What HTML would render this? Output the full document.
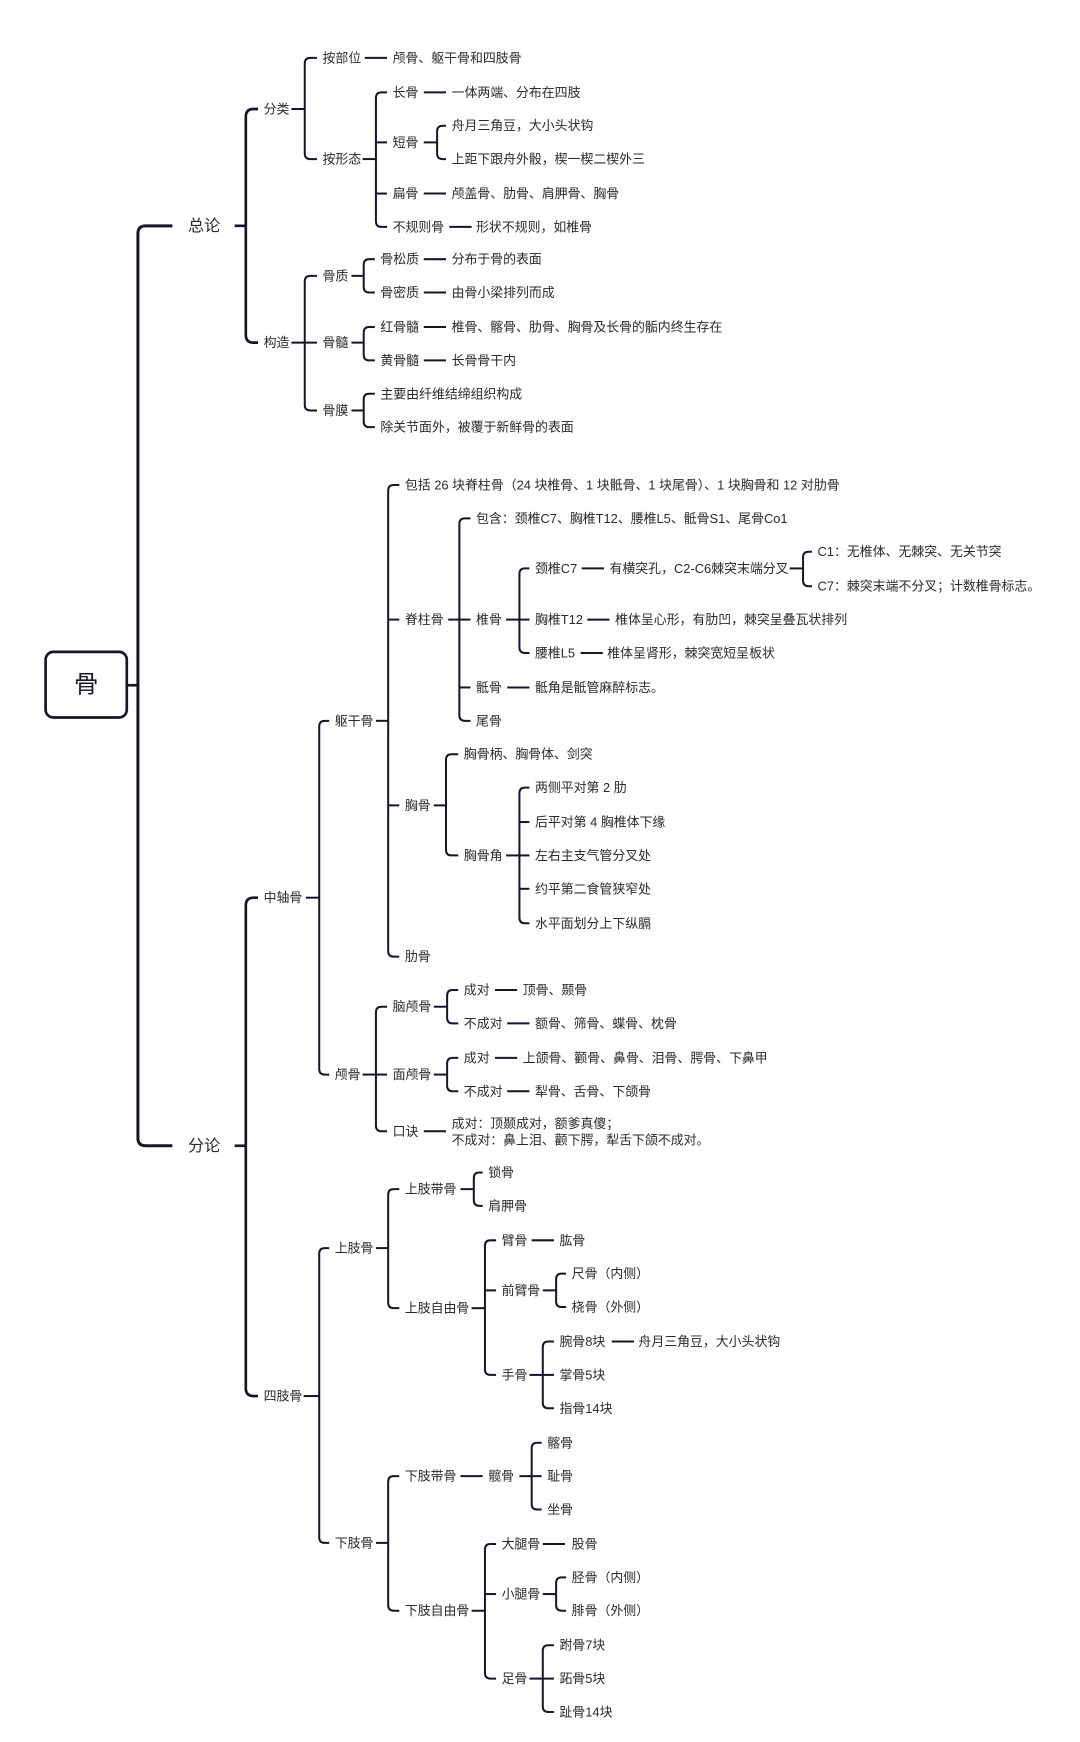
<!DOCTYPE html>
<html><head><meta charset="utf-8">
<style>
html,body{margin:0;padding:0;background:#fff;}
svg{display:block;}
text{font-family:"Liberation Sans","Noto Sans CJK SC",sans-serif;fill:#2a2a2a;dominant-baseline:central;}
</style></head>
<body>
<svg id="s" width="1080" height="1742" viewBox="0 0 971 1566" preserveAspectRatio="none" xmlns="http://www.w3.org/2000/svg">
<rect x="41" y="586" width="73" height="59" rx="7" fill="#fff" stroke="#16152b" stroke-width="2.4"/>
<text x="77.5" y="616" font-size="22" text-anchor="middle" style="fill:#16152b">骨</text>
<line x1="114" y1="616" x2="124" y2="616" stroke="#16152b" stroke-width="2.4"/>
<g id="lines" fill="none" stroke="#16152b" stroke-width="1.8" stroke-linecap="butt"></g>
<g id="texts"></g>
</svg>
<script>
var NS="http://www.w3.org/2000/svg";
var L=document.getElementById('lines'),T=document.getElementById('texts');
function path(d,w){var p=document.createElementNS(NS,'path');p.setAttribute('d',d);if(w)p.setAttribute('stroke-width',w);L.appendChild(p);}
function B(px,vx,cx,py,ys,w){
  var r=5;if(w)r=7;
  if(px<vx)path('M'+px+' '+py+'H'+vx,w);
  var a=Math.min.apply(null,ys),b=Math.max.apply(null,ys);
  path('M'+cx+' '+a+'H'+(vx+r)+'Q'+vx+' '+a+' '+vx+' '+(a+r)+'V'+(b-r)+'Q'+vx+' '+b+' '+(vx+r)+' '+b+'H'+cx,w);
  ys.forEach(function(y){if(y!==a&&y!==b)path('M'+vx+' '+y+'H'+cx,w);});
}
function D(x1,x2,y){path('M'+x1+' '+y+'H'+x2);}
function t(s,x,y,fs){var e=document.createElementNS(NS,'text');e.setAttribute('x',x);e.setAttribute('y',y);e.setAttribute('font-size',fs||11.6);e.textContent=s;T.appendChild(e);}

B(124,124,155,616,[203,1030],2.7);
B(211,221,232,203,[98,308],2.4);
B(262,274,285,98,[52,143]);
B(326,338,348,143,[83,128,174,204]);
B(381,393,401,128,[113,143]);
B(262,274,285,308,[248,308,369]);
B(316,327,337,248,[233,263]);
B(316,327,337,308,[294,324]);
B(316,327,337,369,[354,384]);
B(211,221,232,1030,[807,1255],2.4);
B(275,287,296,807,[648,966]);
B(338,349,359,648,[436,557,724,860]);
B(403,413,423,557,[466,557,618,648]);
B(455,467,476,557,[511,557,587]);
B(710,722,730,511,[496,527]);
B(390,401,412,724,[678,769]);
B(455,467,476,769,[708,739,769,799,830]);
B(326,338,348,966,[905,966,1017]);
B(390,402,412,905,[890,920]);
B(390,402,412,966,[951,981]);
B(273,287,296,1255,[1122,1387]);
B(338,349,359,1122,[1069,1176]);
B(414,426,434,1069,[1054,1084]);
B(424,436,446,1176,[1115,1160,1236]);
B(488,500,509,1160,[1145,1175]);
B(476,488,498,1236,[1206,1236,1266]);
B(338,349,359,1387,[1327,1448]);
B(467,478,487,1327,[1297,1327,1357]);
B(424,436,446,1448,[1388,1433,1509]);
B(488,500,509,1433,[1418,1448]);
B(476,488,498,1509,[1479,1509,1539]);

[[328,348,52],[381,401,83],[381,401,174],[404,424,204],[381,401,233],[381,401,263],[381,401,294],[381,401,324],
[523,543,511],[528,548,557],[522,542,587],[456,476,618],[445,465,890],[456,476,920],[445,465,951],[456,476,981],
[381,401,1017],[478,498,1115],[550,570,1206],[414,434,1327],[488,508,1388]].forEach(function(a){D(a[0],a[1],a[2]);});

t('总论',169,203,14.5);t('分论',169,1030,14.5);
var X=[
['分类',237,98],['构造',237,308],['按部位',290,52],['颅骨、躯干骨和四肢骨',353,52],['按形态',290,143],
['长骨',353,83],['一体两端、分布在四肢',406,83],['短骨',353,128],['舟月三角豆，大小头状钩',406,113],['上距下跟舟外骰，楔一楔二楔外三',406,143],
['扁骨',353,174],['颅盖骨、肋骨、肩胛骨、胸骨',406,174],['不规则骨',353,204],['形状不规则，如椎骨',428,204],
['骨质',290,248],['骨髓',290,308],['骨膜',290,369],['骨松质',342,233],['分布于骨的表面',406,233],['骨密质',342,263],['由骨小梁排列而成',406,263],
['红骨髓',342,294],['椎骨、髂骨、肋骨、胸骨及长骨的骺内终生存在',406,294],['黄骨髓',342,324],['长骨骨干内',406,324],
['主要由纤维结缔组织构成',342,354],['除关节面外，被覆于新鲜骨的表面',342,384],
['中轴骨',237,807],['四肢骨',237,1255],['躯干骨',301,648],['颅骨',301,966],
['包括 26 块脊柱骨（24 块椎骨、1 块骶骨、1 块尾骨）、1 块胸骨和 12 对肋骨',364,436],['脊柱骨',364,557],['胸骨',364,724],['肋骨',364,860],
['包含：颈椎C7、胸椎T12、腰椎L5、骶骨S1、尾骨Co1',428,466],['椎骨',428,557],['骶骨',428,618],['尾骨',428,648],
['颈椎C7',481,511],['有横突孔，C2-C6棘突末端分叉',548,511],['C1：无椎体、无棘突、无关节突',735,496],['C7：棘突末端不分叉；计数椎骨标志。',735,527],
['胸椎T12',481,557],['椎体呈心形，有肋凹，棘突呈叠瓦状排列',553,557],['腰椎L5',481,587],['椎体呈肾形，棘突宽短呈板状',546,587],
['骶角是骶管麻醉标志。',481,618],
['胸骨柄、胸骨体、剑突',417,678],['胸骨角',417,769],['两侧平对第 2 肋',481,708],['后平对第 4 胸椎体下缘',481,739],['左右主支气管分叉处',481,769],['约平第二食管狭窄处',481,799],['水平面划分上下纵膈',481,830],
['脑颅骨',353,905],['面颅骨',353,966],['口诀',353,1017],['成对',417,890],['顶骨、颞骨',470,890],['不成对',417,920],['额骨、筛骨、蝶骨、枕骨',481,920],
['成对',417,951],['上颌骨、颧骨、鼻骨、泪骨、腭骨、下鼻甲',470,951],['不成对',417,981],['犁骨、舌骨、下颌骨',481,981],
['成对：顶颞成对，额爹真傻；',406,1010],['不成对：鼻上泪、颧下腭，犁舌下颌不成对。',406,1025],
['上肢骨',301,1122],['下肢骨',301,1387],['上肢带骨',364,1069],['上肢自由骨',364,1176],['锁骨',439,1054],['肩胛骨',439,1084],
['臂骨',451,1115],['肱骨',503,1115],['前臂骨',451,1160],['尺骨（内侧）',514,1145],['桡骨（外侧）',514,1175],
['手骨',451,1236],['腕骨8块',503,1206],['舟月三角豆，大小头状钩',574,1206],['掌骨5块',503,1236],['指骨14块',503,1266],
['下肢带骨',364,1327],['髋骨',439,1327],['髂骨',492,1297],['耻骨',492,1327],['坐骨',492,1357],['下肢自由骨',364,1448],
['大腿骨',451,1388],['股骨',514,1388],['小腿骨',451,1433],['胫骨（内侧）',514,1418],['腓骨（外侧）',514,1448],
['足骨',451,1509],['跗骨7块',503,1479],['跖骨5块',503,1509],['趾骨14块',503,1539]
];
X.forEach(function(a){t(a[0],a[1],a[2]);});
</script>
</body></html>
